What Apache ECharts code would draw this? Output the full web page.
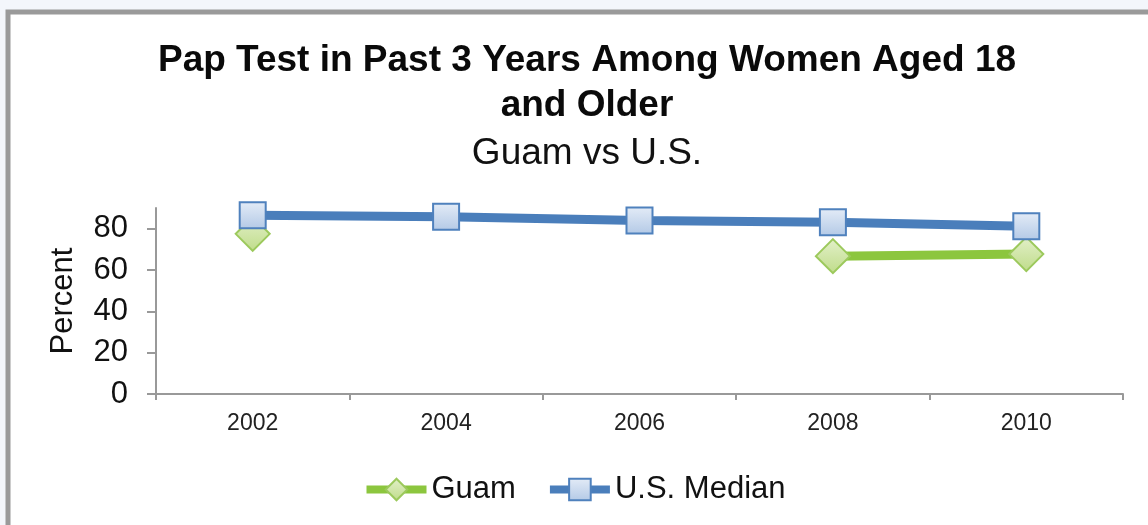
<!DOCTYPE html>
<html>
<head>
<meta charset="utf-8">
<script src="https://cdn.jsdelivr.net/npm/echarts@6/dist/echarts.min.js"></script>
<style>
html,body{margin:0;padding:0;background:#f3f6fb;}
#main{width:1148px;height:525px;}
</style>
</head>
<body>
<div id="main"></div>
<script>
var categories = ['2002', '2004', '2006', '2008', '2010'];
var guamValues = [77.5, null, null, 66.7, 67.7];
var usMedianValues = [86.5, 85.8, 84.0, 83.1, 81.2];
var yTicks = [0, 20, 40, 60, 80];

var chart = echarts.init(document.getElementById('main'));
var blueFill = new echarts.graphic.LinearGradient(0, 0, 0, 1, [
  {offset: 0, color: '#e4ecf7'}, {offset: 1, color: '#b3c9e6'}
]);
var greenFill = new echarts.graphic.LinearGradient(0, 0, 0, 1, [
  {offset: 0, color: '#e3f0c9'}, {offset: 1, color: '#bfdc8a'}
]);
var font = '"Liberation Sans", Arial, sans-serif';
chart.setOption({
  backgroundColor: '#f3f6fb',
  animation: false,
  graphic: [{
    type: 'rect', z: -10, silent: true,
    shape: {x: 8, y: 12, width: 1200, height: 600},
    style: {fill: '#ffffff', stroke: '#9a9a9a', lineWidth: 5}
  }],
  title: [{
    text: 'Pap Test in Past 3 Years Among Women Aged 18\nand Older',
    left: 582, top: 33, textAlign: 'center',
    textStyle: {fontFamily: font, fontSize: 37, fontWeight: 'bold', color: '#0a0a0a', lineHeight: 45}
  }, {
    text: 'Guam vs U.S.',
    left: 582, top: 130, textAlign: 'center',
    textStyle: {fontFamily: font, fontSize: 37, fontWeight: 'normal', color: '#111', lineHeight: 37}
  }],
  legend: {
    bottom: 15, left: 'center',
    itemWidth: 60, itemHeight: 27, itemGap: 30,
    lineStyle: {width: 8},
    textStyle: {fontFamily: font, fontSize: 31, color: '#111'},
    data: ['Guam', 'U.S. Median']
  },
  grid: {left: 156, right: 25, top: 208, bottom: 131},
  xAxis: {
    type: 'category', data: categories, boundaryGap: true,
    axisLine: {lineStyle: {color: '#999', width: 2}},
    axisTick: {show: true, length: 6, lineStyle: {color: '#999', width: 2}},
    axisLabel: {fontFamily: font, fontSize: 23, color: '#222', margin: 18}
  },
  yAxis: {
    type: 'value', min: 0, max: 90, interval: 20,
    name: 'Percent', nameLocation: 'middle', nameRotate: 90, nameGap: 77,
    nameTextStyle: {fontFamily: font, fontSize: 31, color: '#111'},
    axisLine: {show: true, lineStyle: {color: '#999', width: 2}},
    axisTick: {show: true, length: 9, lineStyle: {color: '#999', width: 2}},
    splitLine: {show: false},
    axisLabel: {
      fontFamily: font, fontSize: 31, color: '#111', margin: 28, showMaxLabel: false,
      formatter: function (v) { return yTicks.indexOf(v) >= 0 ? String(v) : ''; }
    }
  },
  series: [{
    name: 'Guam', type: 'line', data: guamValues, connectNulls: false,
    symbol: 'diamond', symbolSize: 34,
    lineStyle: {color: '#8cc63e', width: 9},
    itemStyle: {color: greenFill, borderColor: '#9cc95c', borderWidth: 2},
    z: 2
  }, {
    name: 'U.S. Median', type: 'line', data: usMedianValues,
    symbol: 'rect', symbolSize: 26,
    lineStyle: {color: '#4a7ebb', width: 9},
    itemStyle: {color: blueFill, borderColor: '#4f81bd', borderWidth: 2},
    z: 3
  }]
});
</script>
</body>
</html>
